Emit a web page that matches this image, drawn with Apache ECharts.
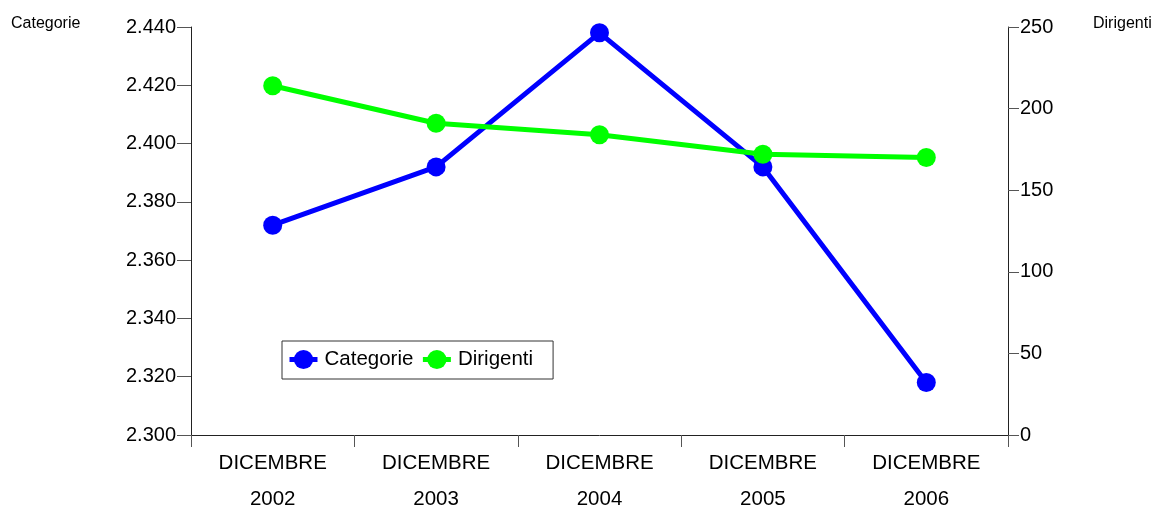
<!DOCTYPE html>
<html>
<head>
<meta charset="utf-8">
<script src="https://cdn.jsdelivr.net/npm/echarts@6/dist/echarts.min.js"></script>
<style>
  html, body { margin: 0; padding: 0; background: #fff; }
  #chart { width: 1162px; height: 505px; }
</style>
</head>
<body>
<div id="chart"></div>
<script>
// Month/year labels for the x axis
const month = 'DICEMBRE';
const years = ['2002', '2003', '2004', '2005', '2006'];

// Series values
const categorie = [2372, 2392, 2438, 2392, 2318];
const dirigenti = [214, 191, 184, 172, 170];

// Axis ranges
const leftAxis = { min: 2300, max: 2440, interval: 20 };
const rightAxis = { min: 0, max: 250, interval: 50 };

const categories = years.map(y => month + '\n' + y);

// Italian thousands separator (2440 -> 2.440)
const itFmt = v => String(Math.round(v)).replace(/\B(?=(\d{3})+(?!\d))/g, '.');

const FONT = 'Liberation Sans, Arial, sans-serif';
const axisColor = '#222';
const tickColor = '#555';

const chart = echarts.init(document.getElementById('chart'), null, { renderer: 'canvas' });

chart.setOption({
  animation: false,
  backgroundColor: '#fff',
  textStyle: { fontFamily: FONT, color: '#000' },
  grid: {
    left: 191, top: 27, width: 817, height: 408,
    containLabel: false, outerBoundsMode: 'none'
  },
  legend: {
    left: 282,
    top: 341,
    orient: 'horizontal',
    borderColor: '#333',
    borderWidth: 1,
    padding: [8, 20, 9, 5],
    itemGap: 7,
    itemWidth: 28,
    itemHeight: 24,
    lineStyle: { width: 5 },
    textStyle: { fontFamily: FONT, fontSize: 20.5, color: '#000', padding: [0, 0, 0, 2] },
    data: ['Categorie', 'Dirigenti']
  },
  xAxis: {
    type: 'category',
    data: categories,
    boundaryGap: true,
    axisLine: { show: true, lineStyle: { color: axisColor, width: 1 } },
    axisTick: { show: true, length: 12, inside: false, lineStyle: { color: tickColor } },
    axisLabel: {
      fontFamily: FONT, fontSize: 20.5, color: '#000',
      lineHeight: 36, margin: 10, interval: 0
    },
    splitLine: { show: false }
  },
  yAxis: [
    {
      type: 'value',
      position: 'left',
      min: leftAxis.min, max: leftAxis.max, interval: leftAxis.interval,
      name: 'Categorie',
      nameLocation: 'end',
      nameGap: -5,
      nameTextStyle: {
        fontFamily: FONT, fontSize: 16, color: '#000',
        align: 'left', verticalAlign: 'bottom',
        padding: [0, 0, 0, -180]
      },
      axisLine: { show: true, onZero: false, lineStyle: { color: axisColor, width: 1 } },
      axisTick: { show: true, length: 14, lineStyle: { color: tickColor } },
      axisLabel: { fontFamily: FONT, fontSize: 20, color: '#000', margin: 15, formatter: itFmt },
      splitLine: { show: false }
    },
    {
      type: 'value',
      position: 'right',
      min: rightAxis.min, max: rightAxis.max, interval: rightAxis.interval,
      name: 'Dirigenti',
      nameLocation: 'end',
      nameGap: -5,
      nameTextStyle: {
        fontFamily: FONT, fontSize: 16, color: '#000',
        align: 'left', verticalAlign: 'bottom',
        padding: [0, 0, 0, 85]
      },
      axisLine: { show: true, onZero: false, lineStyle: { color: axisColor, width: 1 } },
      axisTick: { show: true, length: 11, lineStyle: { color: tickColor } },
      axisLabel: { fontFamily: FONT, fontSize: 20, color: '#000', margin: 12 },
      splitLine: { show: false }
    }
  ],
  series: [
    {
      name: 'Categorie',
      type: 'line',
      yAxisIndex: 0,
      data: categorie,
      symbol: 'circle',
      symbolSize: 19,
      lineStyle: { color: '#0000ff', width: 5 },
      itemStyle: { color: '#0000ff' }
    },
    {
      name: 'Dirigenti',
      type: 'line',
      yAxisIndex: 1,
      data: dirigenti,
      symbol: 'circle',
      symbolSize: 19,
      lineStyle: { color: '#00ff00', width: 5 },
      itemStyle: { color: '#00ff00' }
    }
  ]
});
</script>
</body>
</html>
